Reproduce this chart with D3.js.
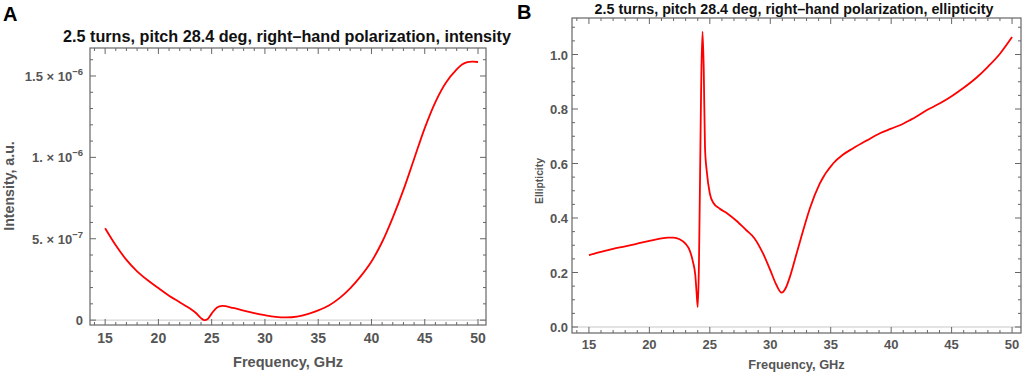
<!DOCTYPE html>
<html><head><meta charset="utf-8">
<script src="https://cdn.jsdelivr.net/npm/d3@7"></script>
<style>
html,body{margin:0;padding:0;background:#fff;}
svg{display:block;font-family:"Liberation Sans",Arial,Helvetica,sans-serif;}
</style></head>
<body>
<svg id="c" width="1024" height="374"></svg>
<script>
// ---- Data ----
const freqA = [15,16,17,18,19,20,21,22,23,23.5,24,24.3,24.6,25,25.5,26,27,28,29,30,31,32,33,34,35,36,37,38,39,40,41,42,43,44,45,46,47,48,48.5,49,49.5,50];
const intensityE7 = [5.65,4.6,3.7,3.0,2.45,1.97,1.5,1.1,0.7,0.45,0.12,0.0,0.05,0.4,0.78,0.87,0.75,0.58,0.43,0.3,0.2,0.165,0.22,0.37,0.6,0.9,1.35,1.95,2.7,3.6,4.8,6.3,8.0,9.9,11.8,13.4,14.6,15.4,15.7,15.85,15.88,15.86];
const freqB = [15,16,17,18,19,20,21,21.5,22,22.5,23,23.3,23.6,23.8,23.9,24.0,24.4,24.5,24.6,24.75,25.0,25.3,25.8,26.5,27.2,28.0,28.7,29.4,30.0,30.5,30.94,31.3,31.63,32.18,32.73,33.28,34.1,35.2,36,36.86,38,39.07,40,41,41.5,42,43,44,45,46,47,48,49,50];
const ellipticity = [0.264,0.276,0.287,0.296,0.306,0.316,0.325,0.328,0.328,0.322,0.305,0.285,0.24,0.19,0.13,0.073,1.084,0.94,0.66,0.57,0.49,0.455,0.435,0.415,0.39,0.356,0.325,0.27,0.209,0.155,0.126,0.145,0.185,0.27,0.356,0.436,0.527,0.60,0.632,0.656,0.685,0.711,0.728,0.746,0.758,0.77,0.797,0.82,0.847,0.878,0.913,0.955,1.003,1.064];
const xTicks = [15,20,25,30,35,40,45,50];
const yTicksA = [0,5e-7,1e-6,1.5e-6];
const yTickLabelsA = ["0","5. × 10","1. × 10","1.5 × 10"];
const yTickExpA = ["","−7","−6","−6"];
const yTicksB = [0,0.2,0.4,0.6,0.8,1.0];
const titles = ["2.5 turns, pitch 28.4 deg, right–hand polarization, intensity","2.5 turns, pitch 28.4 deg, right–hand polarization, ellipticity"];

const svg = d3.select("#c");
const gray = "#666", txt = "#555";

function panel(o){
  const x = d3.scaleLinear().domain(o.xd).range([o.L,o.R]);
  const y = d3.scaleLinear().domain(o.yd).range([o.B,o.T]);
  const g = svg.append("g");
  g.append("line").attr("x1",o.L).attr("x2",o.R).attr("y1",y(0)).attr("y2",y(0)).attr("stroke","#c8c8c8").attr("stroke-width",1);
  g.append("rect").attr("x",o.L).attr("y",o.T).attr("width",o.R-o.L).attr("height",o.B-o.T).attr("fill","none").attr("stroke",gray).attr("stroke-width",1.2);
  const xmin = d3.range(14,51,1).filter(v=>v>=o.xd[0]&&v<=o.xd[1]);
  xmin.forEach(v=>{
    const major = v%5===0; const len = major?6:3;
    g.append("line").attr("x1",x(v)).attr("x2",x(v)).attr("y1",o.B).attr("y2",o.B-len).attr("stroke",gray);
    g.append("line").attr("x1",x(v)).attr("x2",x(v)).attr("y1",o.T).attr("y2",o.T+len).attr("stroke",gray);
  });
  xTicks.forEach(v=>{
    g.append("text").attr("x",x(v)).attr("y",o.B+o.xtdy).attr("text-anchor","middle").attr("font-size",o.xtfs).attr("font-weight","bold").attr("fill",txt).text(v);
  });
  o.yminor.forEach(v=>{
    const major = o.ymajor.some(m=>Math.abs(m-v)<1e-12); const len = major?6:3;
    g.append("line").attr("y1",y(v)).attr("y2",y(v)).attr("x1",o.L).attr("x2",o.L+len).attr("stroke",gray);
    g.append("line").attr("y1",y(v)).attr("y2",y(v)).attr("x1",o.R).attr("x2",o.R-len).attr("stroke",gray);
  });
  o.ylabel(g,y);
  const line = d3.line().x(d=>x(d[0])).y(d=>y(d[1])).curve(o.curve);
  g.append("path").datum(o.data).attr("d",line).attr("fill","none").attr("stroke","#f00").attr("stroke-width",1.8);
  g.append("text").attr("x",o.tx).attr("y",o.ty).attr("text-anchor","middle").attr("font-size",o.tfs).attr("font-weight","bold").attr("fill","#111").text(o.title);
  g.append("text").attr("x",(o.L+o.R)/2).attr("y",o.B+o.xldy).attr("text-anchor","middle").attr("font-size",o.xlfs).attr("font-weight","bold").attr("fill",txt).text("Frequency, GHz");
  g.append("text").attr("transform",`translate(${o.ylx},${o.yly}) rotate(-90)`).attr("text-anchor","middle").attr("font-size",o.ylfs).attr("font-weight","bold").attr("fill",txt).text(o.yname);
  g.append("text").attr("x",o.lx).attr("y",o.ly).attr("font-size",20).attr("font-weight","bold").attr("fill","#000").text(o.letter);
}

panel({
  L:90,R:486,T:48,B:325, xd:[13.58,50.75], yd:[-0.3e-7,1.672e-6],
  data: freqA.map((f,i)=>[f,intensityE7[i]*1e-7]), curve:d3.curveCatmullRom.alpha(0.5),
  yminor: d3.range(0,17).map(k=>k*1e-7), ymajor: yTicksA,
  ylabel:(g,y)=>{
    yTicksA.forEach((v,i)=>{
      const t = g.append("text").attr("x",83).attr("y",y(v)+5).attr("text-anchor","end").attr("font-size",13).attr("font-weight","bold").attr("fill",txt);
      if(yTickExpA[i]===""){ t.text(yTickLabelsA[i]); }
      else {
        t.append("tspan").text(yTickLabelsA[i]);
        t.append("tspan").attr("dy",-6).attr("font-size",9.5).text(yTickExpA[i]);
      }
    });
  },
  xtdy:18, xtfs:14, xldy:42, xlfs:14.6,
  title:titles[0], tfs:16.2, tx:287, ty:42, ylx:14, yly:186, ylfs:14.2, yname:"Intensity, a.u.",
  letter:"A", lx:3, ly:21
});

panel({
  L:572,R:1021,T:18,B:333, xd:[13.6,50.74], yd:[-0.022,1.134],
  data: freqB.map((f,i)=>[f,ellipticity[i]]), curve:d3.curveMonotoneX,
  yminor: d3.range(0,23).map(k=>k*0.05), ymajor: yTicksB,
  ylabel:(g,y)=>{
    yTicksB.forEach(v=>{
      g.append("text").attr("x",568).attr("y",y(v)+5).attr("text-anchor","end").attr("font-size",13).attr("font-weight","bold").attr("fill",txt).text(d3.format(".1f")(v));
    });
  },
  xtdy:16, xtfs:13, xldy:36, xlfs:12.8,
  title:titles[1], tfs:14.3, tx:794, ty:14, ylx:543, yly:181, ylfs:10.3, yname:"Ellipticity",
  letter:"B", lx:517, ly:19
});
</script>
</body></html>
